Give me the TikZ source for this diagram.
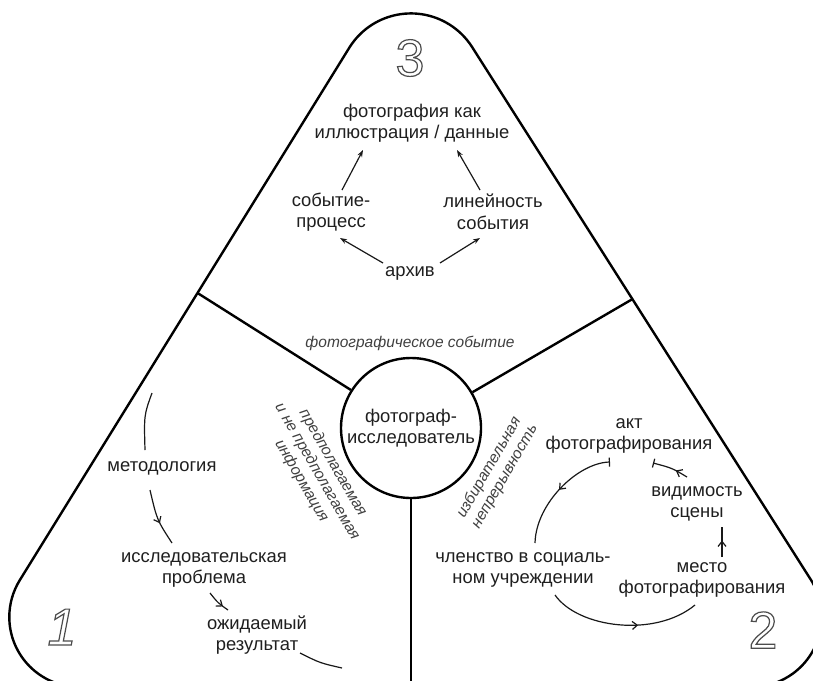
\documentclass[tikz,border=0pt]{standalone}
\usepackage{fontspec}
\setmainfont{Liberation Sans}
\usetikzlibrary{arrows.meta,decorations.markings,calc}
\newcommand{\hollowtxt}[1]{\special{pdf:literal direct 1 Tr 1.2 w 0.3 G}#1\special{pdf:literal direct 0 Tr}}
\tikzset{
  lbl/.style={font=\fontsize{18.4}{21.5}\selectfont, align=center, inner sep=0pt, text=black!88},
  ilbl/.style={font=\fontsize{15.5}{18}\selectfont\itshape, align=center, inner sep=0pt, text=black!75},
  num/.style={font=\fontsize{52}{52}\selectfont, inner sep=0pt},
  outer/.style={line width=2.4pt, black},
  flow/.style={line width=1.2pt, black!90},
  topar/.style={line width=1.2pt, black!90, -{Stealth[length=7pt,width=5pt]}},
  midarr/.style={postaction={decorate}, decoration={markings, mark=at position #1 with {\arrow{Straight Barb[length=5pt,width=8pt,line width=1.2pt]}}}},
}
\begin{document}
\begin{tikzpicture}[x=1pt,y=-1pt]
\clip (0,0) rectangle (813,680);
\fill[white] (0,0) rectangle (813,680);

% outer rounded triangle
\draw[outer] (349.5,47.4) arc[start angle=212.1, end angle=327.6, radius=72.5]
  -- (810.7,579.5) arc[start angle=-32.4, end angle=90, radius=70]
  -- (79.3,687) arc[start angle=90, end angle=211.8, radius=70] -- cycle;

% centre circle and dividers
\node[circle, draw, line width=2.4pt, minimum size=140pt, inner sep=0pt, lbl] (c) at (411,428) {фотограф-\\исследователь};
\coordinate (dl) at (197.5,293);
\coordinate (dr) at (632.6,299);
\coordinate (vb) at (411,690);
\draw[outer] (dl) -- (c);
\draw[outer] (c) -- (dr);
\draw[line width=2.2pt] (c) -- (vb);

% labels on the dividers
\node[ilbl] (tev) at (410,343) {фотографическое событие};
\node[ilbl, rotate=-60] (tinfo) at (317,472) {предполагаемая\\и не предполагаемая\\информация};
\node[ilbl, rotate=60] (tsel) at (497,472) {избирательная\\непрерывность};

% section numbers
\node[num] (n3) at (410,58) {\hollowtxt{3}};
\node[num] (n1) at (62,627) {\itshape\hollowtxt{1}};
\node[num] (n2) at (763,630) {\hollowtxt{2}};

% section 3
\node[lbl] (tphoto) at (412,123) {фотография как\\иллюстрация / данные};
\node[lbl] (tproc) at (331,212) {событие-\\процесс};
\node[lbl] (tlin) at (493,212) {линейность\\события};
\node[lbl] (tarch) at (410,273) {архив};
\draw[topar] ([shift={(11,-22)}]tproc.center) -- ([shift={(-49,27)}]tphoto.center);
\draw[topar] ([shift={(-13,-22)}]tlin.center) -- ([shift={(45,27)}]tphoto.center);
\draw[topar] ([shift={(-27,-10)}]tarch.center) -- ([shift={(9,26)}]tproc.center);
\draw[topar] ([shift={(30,-10)}]tarch.center) -- ([shift={(-13,26)}]tlin.center);

% section 1
\node[lbl] (tmeth) at (162,468) {методология};
\node[lbl] (tprob) at (204,570) {исследовательская\\проблема};
\node[lbl] (tres) at (257,635) {ожидаемый\\результат};
\coordinate (s1) at (152,393);
\coordinate (e1) at (342,668);
\draw[flow] (s1) .. controls (144,415) .. ([shift={(-17,-18)}]tmeth.center);
\draw[flow, midarr=0.6] ([shift={(-12,22)}]tmeth.center) .. controls (157,520) .. ([shift={(-32,-27)}]tprob.center);
\draw[flow, midarr=0.75] ([shift={(6,23)}]tprob.center) .. controls (218,603) .. ([shift={(-29,-25)}]tres.center);
\draw[flow] ([shift={(43,18)}]tres.center) .. controls (320,663) .. (e1);

% section 2
\node[lbl] (takt) at (629,436) {акт\\фотографирования};
\node[lbl] (tvis) at (697,504) {видимость\\сцены};
\node[lbl] (tmem) at (523,570) {членство в социаль-\\ном учреждении};
\node[lbl] (tmesto) at (702,580) {место\\фотографирования};
\draw[flow, midarr=0.5, {Bar[width=9pt,line width=1.2pt]}-] ([shift={(-19,26)}]takt.center) .. controls (578,463) and (536,503) .. ([shift={(12,-27)}]tmem.center);
\draw[flow, midarr=0.6] ([shift={(32,25)}]tmem.center) .. controls (578,628) and (655,638) .. ([shift={(-7,25)}]tmesto.center);
\draw[flow, midarr=0.55] ([shift={(20,-23)}]tmesto.center) -- ([shift={(25,23)}]tvis.center);
\draw[flow, midarr=0.35, -{Bar[width=9pt,line width=1.2pt]}] ([shift={(-10,-27)}]tvis.center) .. controls (672,468) .. ([shift={(24,27)}]takt.center);
\end{tikzpicture}
\end{document}
